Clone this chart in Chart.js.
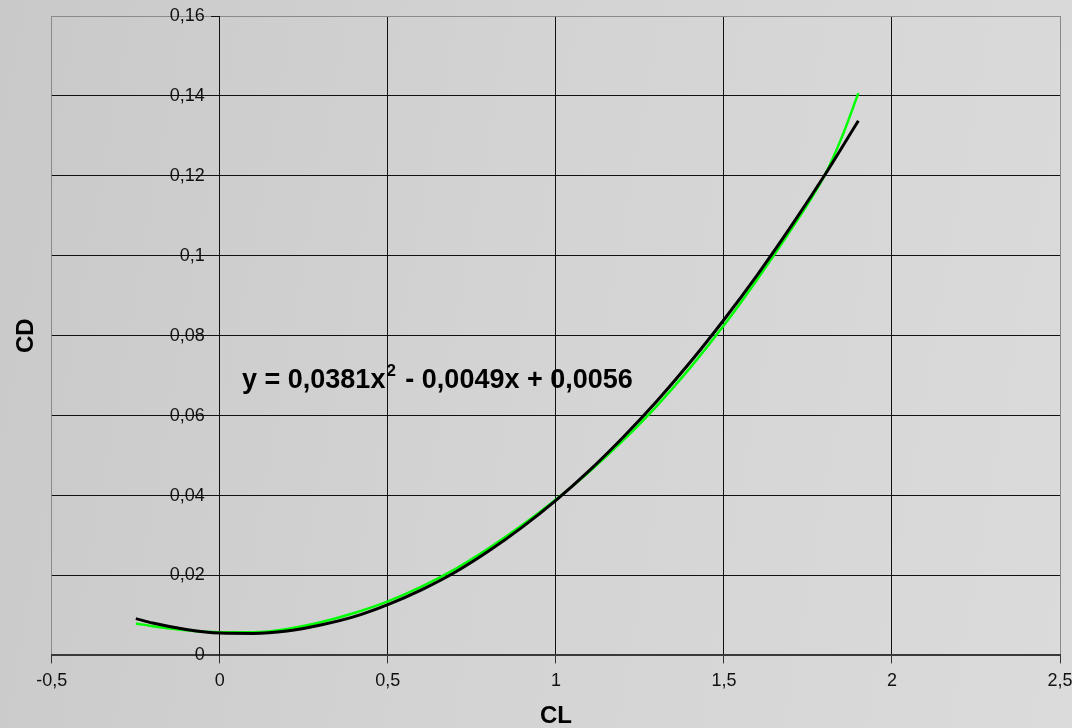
<!DOCTYPE html>
<html>
<head>
<meta charset="UTF-8" />
<title>CD vs CL</title>
<script src="https://cdn.jsdelivr.net/npm/chart.js"></script>
<style>
html, body { margin:0; padding:0; }
body {
  width:1072px; height:728px; overflow:hidden;
  background: linear-gradient(100deg, #c9c9c9 0%, #d3d3d3 45%, #dbdbdb 100%);
}
</style>
</head>
<body>
<canvas id="chart" width="1072" height="728"></canvas>

<script>
// polynomial trendline (black)
const clTrend = [-0.25, -0.2, -0.1, 0, 0.1, 0.2, 0.3, 0.4, 0.5, 0.6, 0.7, 0.8, 0.9, 1.0, 1.1, 1.2, 1.3, 1.4, 1.5, 1.6, 1.7, 1.8, 1.9];
const cdTrend = [0.0092, 0.0081, 0.0065, 0.0056, 0.0055, 0.0061, 0.0076, 0.0097, 0.0127, 0.0164, 0.0208, 0.0261, 0.0321, 0.0388, 0.0463, 0.0546, 0.0636, 0.0734, 0.0840, 0.0953, 0.1074, 0.1202, 0.1338];

// measured polar (green)
const clData = [-0.25, -0.2, -0.1, 0, 0.1, 0.2, 0.3, 0.4, 0.5, 0.6, 0.7, 0.8, 0.9, 1.0, 1.1, 1.2, 1.3, 1.4, 1.5, 1.6, 1.7, 1.8, 1.85, 1.9];
const cdData = [0.0080, 0.0073, 0.0063, 0.0058, 0.0058, 0.0066, 0.0083, 0.0106, 0.0135, 0.0172, 0.0216, 0.0268, 0.0326, 0.0390, 0.0460, 0.0538, 0.0624, 0.0720, 0.0826, 0.0942, 0.1066, 0.1202, 0.1295, 0.1407];

const xTicks = [-0.5, 0, 0.5, 1, 1.5, 2, 2.5];
const yTicks = [0, 0.02, 0.04, 0.06, 0.08, 0.1, 0.12, 0.14, 0.16];

const eqParts = ['y = 0,0381x', '2', ' - 0,0049x + 0,0056'];
const eqAt = { x: 0.066, y: 0.067 };

const fmt = v => String(v).replace('.', ',');
const FONT = 'Liberation Sans, Arial, sans-serif';

const equationLabel = {
  id: 'equationLabel',
  afterDatasetsDraw(chart) {
    const { ctx, scales } = chart;
    let x = scales.x.getPixelForValue(eqAt.x);
    const y = scales.y.getPixelForValue(eqAt.y);
    ctx.save();
    ctx.fillStyle = '#000';
    ctx.textBaseline = 'alphabetic';
    ctx.font = 'bold 27px ' + FONT;
    ctx.fillText(eqParts[0], x, y);
    x += ctx.measureText(eqParts[0]).width;
    ctx.font = 'bold 17px ' + FONT;
    ctx.fillText(eqParts[1], x + 1, y - 12);
    x += ctx.measureText(eqParts[1]).width + 3;
    ctx.font = 'bold 27px ' + FONT;
    ctx.fillText(eqParts[2], x, y);
    ctx.restore();
  }
};

new Chart(document.getElementById('chart'), {
  type: 'scatter',
  data: {
    datasets: [
      {
        label: 'trend',
        data: clTrend.map((x, i) => ({ x, y: cdTrend[i] })),
        showLine: true,
        borderColor: '#000',
        borderWidth: 3,
        pointRadius: 0,
        cubicInterpolationMode: 'monotone'
      },
      {
        label: 'CD',
        data: clData.map((x, i) => ({ x, y: cdData[i] })),
        showLine: true,
        borderColor: '#00ff00',
        borderWidth: 2.5,
        pointRadius: 0,
        cubicInterpolationMode: 'monotone'
      }
    ]
  },
  options: {
    responsive: false,
    animation: false,
    devicePixelRatio: 1,
    layout: { padding: { left: 10, right: 12, top: 16, bottom: 0 } },
    plugins: { legend: { display: false }, tooltip: { enabled: false } },
    scales: {
      x: {
        type: 'linear',
        position: 'bottom',
        min: -0.5, max: 2.5,
        afterBuildTicks: s => { s.ticks = xTicks.map(v => ({ value: v })); },
        afterFit: s => { s.paddingRight = 0; s.paddingLeft = 0; },
        ticks: { callback: fmt, color: '#111', padding: 7, font: { family: FONT, size: 18 }, maxRotation: 0 },
        grid: {
          color: c => (c.tick && (c.tick.value === -0.5 || c.tick.value === 2.5)) ? '#8a8a8a' : '#111',
          tickColor: '#333',
          tickLength: 8,
          lineWidth: 1
        },
        border: { color: '#3a3a3a', width: 2 },
        title: { display: true, text: 'CL', color: '#000', font: { family: FONT, size: 24, weight: 'bold', lineHeight: 1 }, padding: { top: 5, bottom: 0 } }
      },
      y: {
        type: 'linear',
        position: { x: 0 },
        min: 0, max: 0.16,
        afterBuildTicks: s => { s.ticks = yTicks.map(v => ({ value: v })); },
        ticks: { callback: v => fmt(v) + '   ', color: '#111', font: { family: FONT, size: 18 } },
        grid: {
          color: c => (c.tick && c.tick.value === 0.16) ? '#8a8a8a' : '#111',
          tickColor: '#111',
          tickLength: 8,
          lineWidth: 1
        },
        border: { color: '#111', width: 1 }
      },
      yTitle: {
        type: 'linear',
        position: 'left',
        display: true,
        ticks: { display: false },
        grid: { display: false, drawTicks: false },
        border: { display: false },
        title: { display: true, text: 'CD', color: '#000', font: { family: FONT, size: 24, weight: 'bold' }, padding: { top: 2, bottom: 11 } }
      }
    }
  },
  plugins: [equationLabel]
});
</script>
</body>
</html>
